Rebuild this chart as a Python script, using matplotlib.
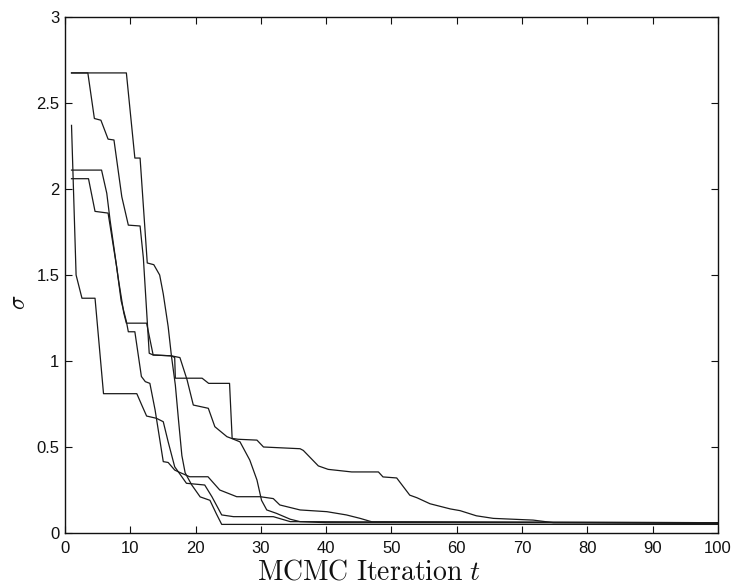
import matplotlib
matplotlib.use("Agg")
import matplotlib.pyplot as plt

plt.rcParams['mathtext.fontset'] = 'cm'
plt.rcParams['font.family'] = ['Liberation Sans', 'DejaVu Sans']

# sigma estimates along five MCMC chains (polyline vertices: iteration, sigma)
chain1_t = [1, 9.4, 10.7, 11.5, 12.6, 13.6, 14.5, 15.05, 15.8, 16.3, 16.9, 17.4,
            17.9, 18.4, 19.4, 20.7, 22.2, 23.2, 24.0, 100]
chain1_s = [2.675, 2.675, 2.18, 2.18, 1.57, 1.56, 1.50, 1.39, 1.20, 1.03, 0.86, 0.65,
            0.45, 0.35, 0.28, 0.21, 0.19, 0.11, 0.05, 0.05]

chain2_t = [1, 3.5, 4.5, 5.5, 6.6, 7.5, 8.7, 9.7, 11.5, 12.0, 12.9, 13.5, 16.3,
            17.6, 18.7, 19.65, 21.95, 22.95, 24.8, 25.5, 26.8, 28.3, 29.4, 30.1,
            30.9, 32.4, 34.5, 36.0, 40.0, 100]
chain2_s = [2.675, 2.675, 2.41, 2.40, 2.29, 2.285, 1.955, 1.79, 1.785, 1.60, 1.045,
            1.035, 1.03, 1.02, 0.89, 0.744, 0.725, 0.618, 0.56, 0.55, 0.53, 0.424,
            0.308, 0.19, 0.134, 0.114, 0.08, 0.066, 0.06, 0.06]

chain3_t = [1, 1.7, 2.6, 4.6, 5.9, 11.0, 11.8, 12.5, 14.0, 15.05, 15.8, 16.8,
            17.35, 18.6, 21.4, 22.5, 24.0, 25.8, 31.9, 34.5, 100]
chain3_s = [2.37, 1.50, 1.365, 1.365, 0.81, 0.81, 0.74, 0.68, 0.667, 0.647, 0.53,
            0.385, 0.356, 0.289, 0.279, 0.211, 0.105, 0.095, 0.095, 0.066, 0.06]

chain4_t = [1, 5.6, 6.4, 6.9, 8.2, 9.0, 9.4, 12.5, 13.5, 16.3, 16.8, 16.9, 21.0,
            22.0, 25.2, 25.6, 26.5, 29.4, 30.4, 36.0, 36.5, 38.8, 40.3, 43.9, 48.0,
            48.7, 50.8, 52.8, 53.9, 55.9, 59.0, 60.5, 63.0, 65.6, 71.7, 74.8, 100]
chain4_s = [2.11, 2.11, 1.975, 1.82, 1.47, 1.28, 1.22, 1.22, 1.035, 1.03, 1.02, 0.90,
            0.90, 0.87, 0.87, 0.55, 0.545, 0.54, 0.50, 0.49, 0.48, 0.39, 0.37, 0.355,
            0.355, 0.326, 0.32, 0.22, 0.205, 0.17, 0.14, 0.13, 0.10, 0.085, 0.075,
            0.06, 0.055]

chain5_t = [1, 3.6, 4.6, 6.6, 7.9, 8.6, 9.4, 9.7, 10.7, 11.7, 12.3, 13.0, 13.8,
            15.05, 15.8, 16.8, 17.35, 19.1, 21.9, 23.7, 26.3, 29.9, 31.9, 32.9, 36.0,
            40.1, 43.1, 45.2, 47.0, 100]
chain5_s = [2.06, 2.06, 1.87, 1.86, 1.55, 1.35, 1.23, 1.17, 1.17, 0.91, 0.88, 0.87,
            0.715, 0.415, 0.41, 0.366, 0.356, 0.327, 0.327, 0.25, 0.211, 0.211, 0.20,
            0.163, 0.134, 0.124, 0.105, 0.085, 0.065, 0.06]

chains = [(chain1_t, chain1_s), (chain2_t, chain2_s), (chain3_t, chain3_s),
          (chain4_t, chain4_s), (chain5_t, chain5_s)]

x_ticks = [0, 10, 20, 30, 40, 50, 60, 70, 80, 90, 100]
y_ticks = [0, 0.5, 1, 1.5, 2, 2.5, 3]
y_tick_labels = ['0', '0.5', '1', '1.5', '2', '2.5', '3']

fig = plt.figure(figsize=(7.36, 5.87), dpi=100)
ax = fig.add_axes([0.0883, 0.092, 0.8872, 0.879])

for t, s in chains:
    ax.plot(t, s, color='#1a1a1a', linewidth=0.9)

ax.set_xlim(0, 100)
ax.set_ylim(0, 3)
ax.set_xticks(x_ticks)
ax.set_yticks(y_ticks)
ax.set_yticklabels(y_tick_labels)
ax.tick_params(direction='in', length=5, width=0.8, top=True, right=True,
               labelsize=12, colors='#111111')
ax.tick_params(axis='x', pad=6)
ax.tick_params(axis='y', pad=4)
for sp in ax.spines.values():
    sp.set_linewidth(1.0)
    sp.set_color('#111111')

# axis titles
ax.text(0.466, -0.0905, r'$\mathrm{MCMC\ Iteration}\ t$', transform=ax.transAxes,
        fontsize=20, ha='center', va='baseline', color='#111111')
ax.text(-0.0705, 0.448, r'$\sigma$', transform=ax.transAxes, rotation=90,
        fontsize=17, ha='center', va='center', color='#111111')

fig.savefig('out.png', dpi=100, facecolor='white')
